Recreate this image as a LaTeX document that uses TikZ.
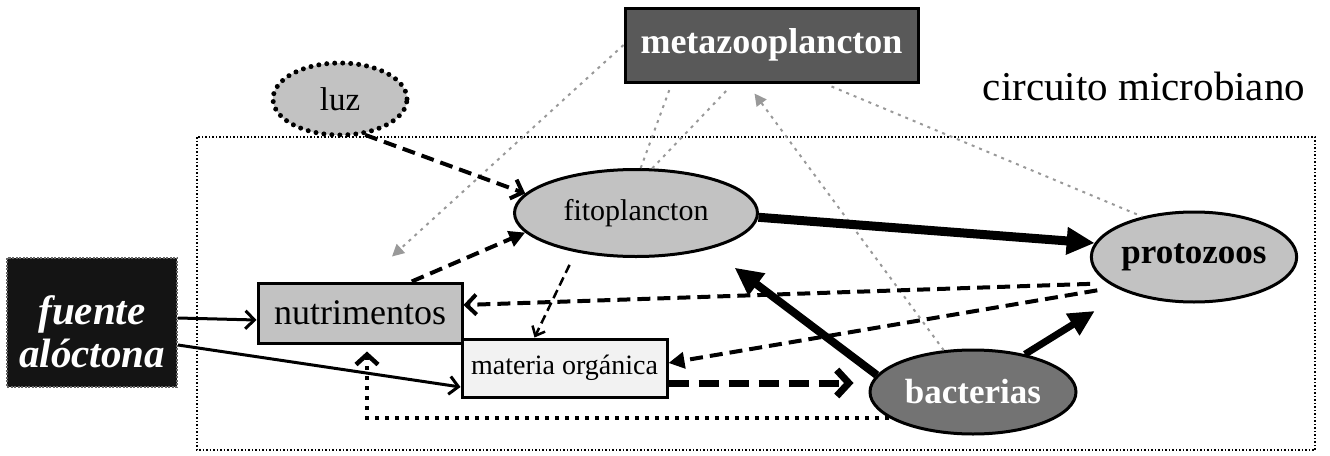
\documentclass[tikz,border=0pt]{standalone}
\usepackage{fontspec}
\setmainfont{Liberation Serif}
\usetikzlibrary{arrows.meta,shapes.geometric,calc}

\tikzset{
  txt/.style={font=\fontsize{#1}{#1}\selectfont},
  btxt/.style={font=\bfseries\fontsize{#1}{#1}\selectfont},
  box/.style={rectangle, draw=black, line width=3pt, inner sep=0pt},
  blob/.style={ellipse, draw=black, line width=3pt, inner sep=0pt},
  pale/.style={fill=black!24},
  dflow/.style={line width=4pt, dash pattern=on 13pt off 7pt},
  solidflow/.style={line width=3pt, -{Straight Barb[length=9pt,width=18pt]}},
  barb/.style={-{Straight Barb[length=10pt,width=20pt]}},
  tri/.style={-{Triangle[length=16pt,width=16pt]}},
  graylink/.style={draw=black!40, line width=2pt, dash pattern=on 3pt off 5pt},
  graytip/.style={-{Triangle[length=12pt,width=12pt]}},
}

\begin{document}
\begin{tikzpicture}[x=1pt,y=-1pt]
\useasboundingbox (0,0) rectangle (1330,455);

% microbial loop frame
\draw[line width=1.5pt, dash pattern=on 1.5pt off 2pt] (197,137) rectangle (1315,450);

% compartments
\node[box, fill=black!65, minimum width=293pt, minimum height=74pt, text=white, btxt=36]
  (metazoo) at (771.5,45) {metazooplancton};
\node[ellipse, draw=black, line width=5pt, dash pattern=on 0pt off 8pt, line cap=round,
  pale, minimum width=134pt, minimum height=72pt, inner sep=0pt, txt=33]
  (luz) at (340,99) {luz};
\node[txt=41, anchor=base] (titulo) at (1144,100) {circuito microbiano};

\node[blob, pale, minimum width=243pt, minimum height=87pt, txt=30]
  (fito) at (636,213) {fitoplancton};
\node[blob, pale, minimum width=202pt, minimum height=90pt, btxt=35]
  (proto) at (1194,257) {protozoos};
\node[blob, fill=black!55, minimum width=206pt, minimum height=84pt, text=white, btxt=35]
  (bact) at (973,392) {bacterias};

\node[rectangle, fill=black!92, draw=black!60, line width=2pt, dash pattern=on 2pt off 1.5pt,
  minimum width=170pt, minimum height=129pt] (fuente) at (92,322) {};
\node[text=white, align=center, font=\bfseries\itshape\fontsize{41}{43}\selectfont]
  (fuentetxt) at ($(fuente.center)+(0,10)$) {fuente\\alóctona};

\node[box, pale, minimum width=204pt, minimum height=60pt, txt=36]
  (nutri) at (360,313) {nutrimentos};
\node[box, fill=black!5, minimum width=205pt, minimum height=58pt, txt=28]
  (materia) at (564.5,368) {materia orgánica};

% links to and from the metazooplankton
\draw[graylink, graytip] (metazoo.west) -- ($(nutri.north)+(32,-25)$);
\draw[graylink] (fito.84) -- ($(metazoo.south)+(-102,6)$);
\draw[graylink] (fito.70) -- ($(metazoo.south)+(-44,6)$);
\draw[graylink, graytip] (bact.125) -- ($(metazoo.south)+(-17,10)$);
\draw[graylink] ($(metazoo.south)+(60,3)$) -- (proto.142);

% external inputs
\draw[solidflow] ($(fuente.east)+(0,-4)$) -- ($(nutri.west)+(0,7)$);
\draw[solidflow] ($(fuente.east)+(0,23)$) -- ($(materia.west)+(0,19)$);

% light and nutrients to phytoplankton
\draw[dflow, barb] (luz.-55) -- (fito.170);
\draw[dflow, tri] ($(nutri.north)!0.5!(nutri.north east)$) -- (fito.190);

% grazing
\draw[line width=9pt, -{Triangle[length=28pt,width=26pt]}] (fito.-2) -- (proto.172);
\draw[line width=8pt, -{Triangle[length=28pt,width=26pt]}, shorten >=31pt] (bact.170) -- (fito.-26);
\draw[line width=7pt, -{Triangle[length=26pt,width=24pt]}, shorten >=36pt] (bact.36) -- (proto.207);

% excretion and release
\draw[dflow, barb, shorten <=18pt] (proto.197) -- ($(nutri.east)+(0,-8)$);
\draw[dflow, tri, shorten <=18pt] (proto.201) -- ($(materia.east)+(0,-5)$);
\draw[line width=2.5pt, dash pattern=on 9pt off 5pt, -{Straight Barb[length=8pt,width=14pt]},
  shorten <=14pt] (fito.213) -- ($(materia.north)+(-30,0)$);

% uptake of organic matter and remineralisation
\draw[line width=7pt, dash pattern=on 20pt off 10pt, -{Straight Barb[length=12pt,width=26pt]}]
  ($(materia.east)+(0,15)$) -- ($(bact.west)+(-15,-9)$);
\draw[line width=4.5pt, dash pattern=on 4pt off 6pt, -{Straight Barb[length=10pt,width=22pt]}]
  (bact.197) -| ($(nutri.south)+(7,7)$);
\end{tikzpicture}
\end{document}
